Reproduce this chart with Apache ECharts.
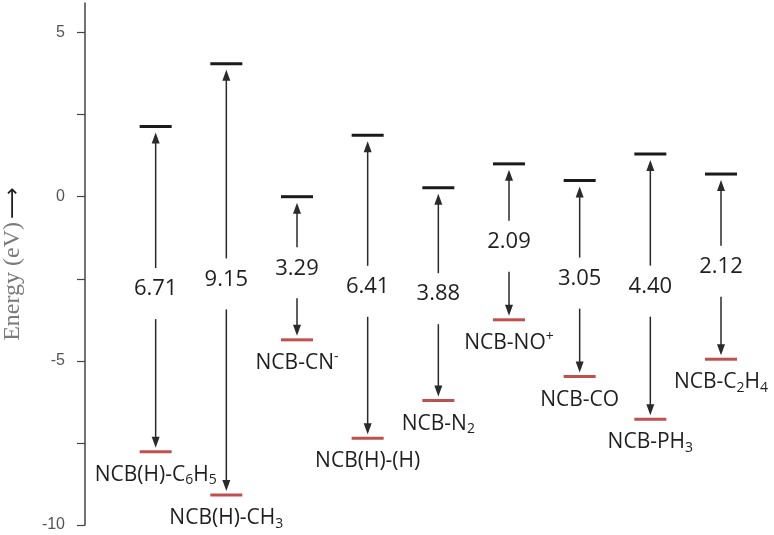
<!DOCTYPE html>
<html>
<head>
<meta charset="utf-8">
<script src="https://cdn.jsdelivr.net/npm/echarts@6/dist/echarts.min.js"></script>
<style>
  html, body { margin: 0; padding: 0; background: #fff; }
  #Chart { width: 774px; height: 535px; }
</style>
</head>
<body>
<div id="Chart"></div>
<script>
// compound names (rich text markup for sub/superscripts)
let compounds = [
    "NCB(H)-C{sub|6}H{sub|5}",
    "NCB(H)-CH{sub|3}",
    "NCB-CN{sup|-}",
    "NCB(H)-(H)",
    "NCB-N{sub|2}",
    "NCB-NO{sup|+}",
    "NCB-CO",
    "NCB-PH{sub|3}",
    "NCB-C{sub|2}H{sub|4}"
]
// LUMO / HOMO levels in eV
let lumo = [2.14, 4.05, 0.00, 1.87, 0.27, 1.00, 0.49, 1.30, 0.69]
let homo = [-7.77, -9.09, -4.36, -7.36, -6.21, -3.75, -5.48, -6.78, -4.95]
// gap labels as printed
let gaps = ["6.71", "9.15", "3.29", "6.41", "3.88", "2.09", "3.05", "4.40", "2.12"]
// y axis ticks
let yTicks = [-10, -7.5, -5, -2.5, 0, 2.5, 5]

let seriesData = compounds.map((c, i) => [i + 1, lumo[i], homo[i]])

let levelChart = echarts.init(document.getElementById("Chart"))

let richStyle = {
    sub: { fontSize: 14, fontFamily: "Open Sans", color: "#1f1f1f", padding: [11, 0, 0, 0] },
    sup: { fontSize: 14, fontFamily: "Open Sans", color: "#1f1f1f", padding: [0, 0, 11, 0] }
}

let options = {
    animation: false,
    grid: { left: 85, right: 0, top: 3, bottom: 10, containLabel: false, outerBoundsMode: "none" },
    xAxis: { type: "value", min: 0, max: 9.75, show: false },
    yAxis: {
        type: "value",
        min: -10,
        max: 5.9,
        interval: 2.5,
        name: "{t|Energy (eV)} {a|⟶}",
        nameLocation: "middle",
        nameGap: 60,
        nameRotate: 90,
        nameTextStyle: {
            rich: {
                t: { fontFamily: "Liberation Serif", fontSize: 24, color: "#7a7a7a" },
                a: { fontFamily: "DejaVu Sans", fontSize: 22, color: "#222" }
            }
        },
        axisLine: { show: true, lineStyle: { color: "#444", width: 1.5 } },
        axisTick: { show: true, length: 8, customValues: yTicks, lineStyle: { color: "#444", width: 1.2 } },
        axisLabel: {
            margin: 20,
            fontFamily: "Liberation Sans",
            fontSize: 16,
            color: "#555",
            showMaxLabel: false,
            formatter: function (v) {
                if (v % 5 !== 0) return ""
                return v < 0 ? "-" + Math.abs(v) : String(v)
            }
        },
        splitLine: { show: false }
    },
    series: [
        {
            type: "custom",
            data: seriesData,
            encode: { x: 0, y: [1, 2] },
            renderItem: function (params, api) {
                let i = params.dataIndex
                let x = api.value(0)
                let top = api.coord([x, api.value(1)])
                let bot = api.coord([x, api.value(2)])
                let cx = top[0]
                let mid = (top[1] + bot[1]) / 2
                let half = 16
                let ink = "#2a2a2a"
                return {
                    type: "group",
                    children: [
                        { type: "line", shape: { x1: cx - half, y1: top[1], x2: cx + half, y2: top[1] }, style: { stroke: "#1a1a1a", lineWidth: 3 } },
                        { type: "line", shape: { x1: cx - half, y1: bot[1], x2: cx + half, y2: bot[1] }, style: { stroke: "#c0504d", lineWidth: 3 } },
                        // up arrow
                        { type: "line", shape: { x1: cx, y1: mid - 21, x2: cx, y2: top[1] + 12 }, style: { stroke: ink, lineWidth: 1.5 } },
                        { type: "polygon", shape: { points: [[cx, top[1] + 6], [cx - 4, top[1] + 17], [cx + 4, top[1] + 17]] }, style: { fill: ink } },
                        // down arrow
                        { type: "line", shape: { x1: cx, y1: mid + 30, x2: cx, y2: bot[1] - 10 }, style: { stroke: ink, lineWidth: 1.5 } },
                        { type: "polygon", shape: { points: [[cx, bot[1] - 4], [cx - 4, bot[1] - 15], [cx + 4, bot[1] - 15]] }, style: { fill: ink } },
                        {
                            type: "text",
                            style: {
                                x: cx, y: mid, text: gaps[i], align: "center", verticalAlign: "middle",
                                fontFamily: "Open Sans", fontSize: 22, fill: "#1f1f1f"
                            }
                        },
                        {
                            type: "text",
                            style: {
                                x: cx, y: bot[1] + 23, text: compounds[i], align: "center", verticalAlign: "middle",
                                fontFamily: "Open Sans", fontSize: 21, fill: "#1f1f1f", rich: richStyle
                            }
                        }
                    ]
                }
            }
        }
    ]
}

levelChart.setOption(options)
</script>
</body>
</html>
